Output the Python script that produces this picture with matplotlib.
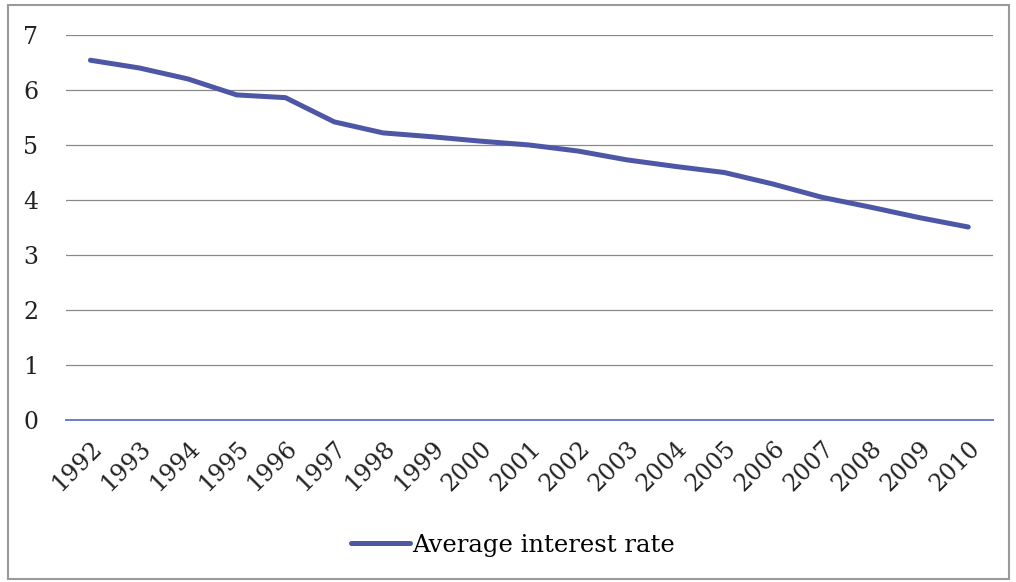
import matplotlib
matplotlib.use('Agg')
from matplotlib import pyplot as plt
from matplotlib.patches import Rectangle
import numpy as np

years = [str(y) for y in range(1992, 2011)]
rates = [6.54, 6.40, 6.20, 5.91, 5.86, 5.42, 5.22, 5.15, 5.07, 5.00,
         4.89, 4.73, 4.61, 4.50, 4.29, 4.05, 3.87, 3.68, 3.51]

plt.rcParams['font.family'] = ['DejaVu Serif']
line_color = "#4E56A6"

fig = plt.figure(figsize=(10.16, 5.82), dpi=100)
ax = fig.add_axes([0.065, 0.278, 0.912, 0.662])

x = np.arange(len(years))
ax.plot(x, rates, color=line_color, linewidth=3.6, solid_capstyle='round',
        label="Average interest rate")

ax.set_xlim(-0.5, len(years) - 0.5)
ax.set_ylim(0, 7)
ax.set_yticks(range(0, 8))
ax.yaxis.grid(True, color="#8a8a8a", linewidth=0.9)
ax.axhline(0, color="#6a7bd0", linewidth=1.4, zorder=3, clip_on=False)
ax.set_axisbelow(True)
for s in ax.spines.values():
    s.set_visible(False)
ax.tick_params(axis='both', length=0, labelsize=17, colors="#222222")
ax.tick_params(axis='y', pad=20)
ax.tick_params(axis='x', pad=12)
ax.set_xticks(x)
ax.set_xticklabels(years, rotation=45, ha='right', rotation_mode='anchor')

fig.legend(loc='center', bbox_to_anchor=(0.505, 0.063), frameon=False,
           fontsize=17.5, handlelength=2.4, handletextpad=0.1)

fig.patches.append(Rectangle((0.008, 0.006), 0.985, 0.985, transform=fig.transFigure,
                             fill=False, edgecolor="#9a9a9a", linewidth=1.5))

plt.savefig("out.png", dpi=100)
